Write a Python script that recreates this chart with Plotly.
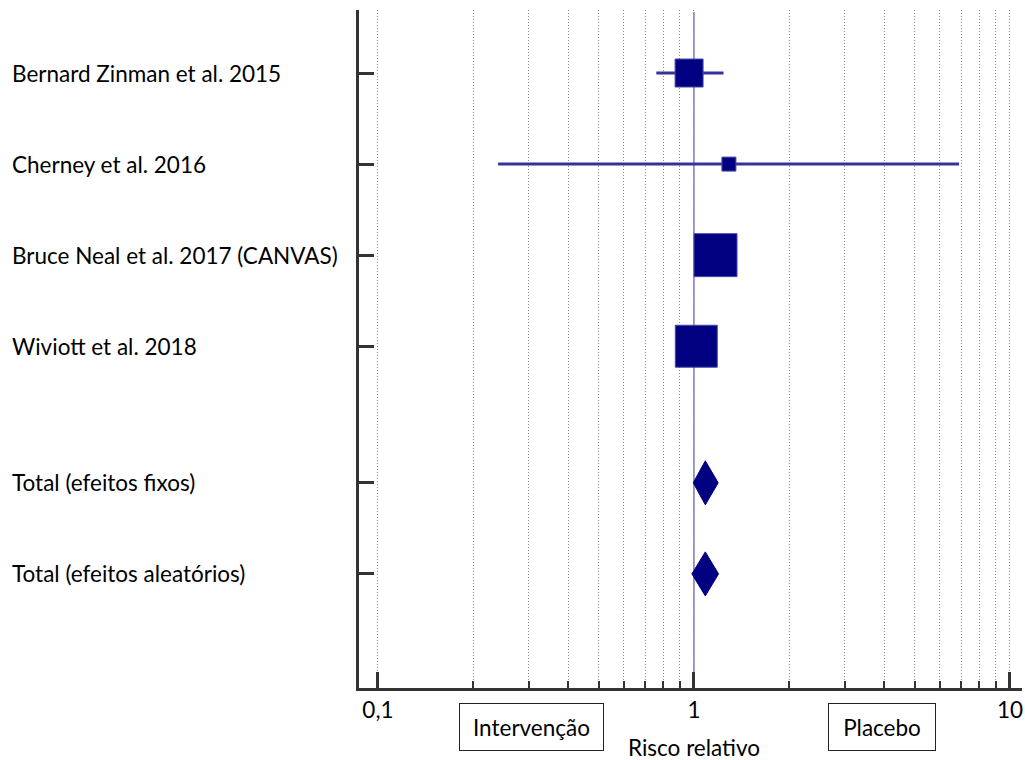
import plotly.graph_objects as go

# Studies and pooled estimates (relative risk with 95% CI)
studies = ["Bernard Zinman et al. 2015", "Cherney et al. 2016",
           "Bruce Neal et al. 2017 (CANVAS)", "Wiviott et al. 2018"]
study_rr = [0.965, 1.29, 1.17, 1.017]
study_lo = [0.76, 0.24, 1.03, 0.90]
study_hi = [1.24, 6.9, 1.32, 1.15]
study_weight_px = [28, 14, 43, 42]   # square side, proportional to weight
study_rows = [0, 1, 2, 3]

pooled = ["Total (efeitos fixos)", "Total (efeitos aleatórios)"]
pooled_rr = [1.086, 1.086]
pooled_lo = [0.995, 0.985]
pooled_hi = [1.193, 1.196]
pooled_rows = [4.5, 5.5]

tick_vals = [0.1, 1, 10]
tick_text = ["0,1", "1", "10"]
minor_vals = [0.2, 0.3, 0.4, 0.5, 0.6, 0.7, 0.8, 0.9, 2, 3, 4, 5, 6, 7, 8, 9]

NAVY = "#000080"
CI_COL = "#333399"
FONT = "Lato"
FS = 22.5
GRID = "#8c8c8c"
DOTS = "1px,2px"

# plot area in pixels
L, R, T, B = 359, 1022, 10, 688
W, H = 1025, 760


def px_x(px):
    return (px - L) / (R - L)


def px_y(py):
    return (B - py) / (B - T)


fig = go.Figure()

# confidence-interval lines
ci_x, ci_y = [], []
for lo, hi, r in zip(study_lo, study_hi, study_rows):
    ci_x += [lo, hi, None]
    ci_y += [r, r, None]
fig.add_trace(go.Scatter(x=ci_x, y=ci_y, mode="lines",
                         line=dict(color=CI_COL, width=3),
                         hoverinfo="skip", showlegend=False))

# study squares
fig.add_trace(go.Scatter(x=study_rr, y=study_rows, mode="markers",
                         marker=dict(symbol="square", size=study_weight_px,
                                     color=NAVY, opacity=1,
                                     line=dict(color="#4a4aa8", width=1)),
                         showlegend=False))

# pooled diamonds
half_h = 22 / 91
for lo, est, hi, r in zip(pooled_lo, pooled_rr, pooled_hi, pooled_rows):
    fig.add_trace(go.Scatter(x=[lo, est, hi, est, lo],
                             y=[r, r - half_h, r, r + half_h, r],
                             mode="lines", fill="toself", fillcolor=NAVY,
                             line=dict(color=NAVY, width=1),
                             hoverinfo="skip", showlegend=False))

# line of no effect
fig.add_shape(type="line", xref="x", yref="paper", x0=1, x1=1, y0=0, y1=0.997,
              line=dict(color="rgba(40,40,140,0.9)", width=1), layer="below")

annotations = []
for name, r in zip(studies + pooled, study_rows + pooled_rows):
    annotations.append(dict(text=name, xref="paper", yref="y",
                            x=px_x(10), y=r, xanchor="left", yanchor="middle",
                            showarrow=False,
                            font=dict(family=FONT, size=FS, color="#000")))

for txt, cx, bw in [("Intervenção", 531, 143), ("Placebo", 881.5, 106)]:
    annotations.append(dict(text=txt, xref="paper", yref="paper",
                            x=px_x(cx), y=px_y(727), xanchor="center",
                            yanchor="middle", showarrow=False,
                            width=bw, height=46, borderpad=0,
                            bordercolor="#222", borderwidth=1,
                            font=dict(family=FONT, size=FS, color="#000")))

annotations.append(dict(text="Risco relativo", xref="paper", yref="paper",
                        x=px_x(694), y=px_y(747), xanchor="center",
                        yanchor="middle", showarrow=False,
                        font=dict(family=FONT, size=FS, color="#000")))

fig.update_layout(
    width=W, height=H,
    margin=dict(l=L, r=W - R, t=T, b=H - B),
    paper_bgcolor="white", plot_bgcolor="white",
    annotations=annotations,
    xaxis=dict(type="log", range=[-1.06, 1.038],
               tickvals=tick_vals, ticktext=tick_text,
               ticks="inside", ticklen=16, tickwidth=3, tickcolor="#333",
               showline=True, linewidth=3, linecolor="#333",
               showgrid=True, gridcolor=GRID, gridwidth=1, griddash=DOTS,
               zeroline=False,
               tickfont=dict(family=FONT, size=FS, color="#000"),
               minor=dict(tickvals=minor_vals, ticks="inside", ticklen=7,
                          tickwidth=1.5, tickcolor="#333", showgrid=True,
                          gridcolor=GRID, gridwidth=1, griddash=DOTS)),
    yaxis=dict(range=[6.753, -0.692],
               tickvals=study_rows + pooled_rows, showticklabels=False,
               ticks="inside", ticklen=15, tickwidth=3, tickcolor="#333",
               showline=True, linewidth=3, linecolor="#333",
               showgrid=False, zeroline=False),
)

fig.write_html("out.html")
